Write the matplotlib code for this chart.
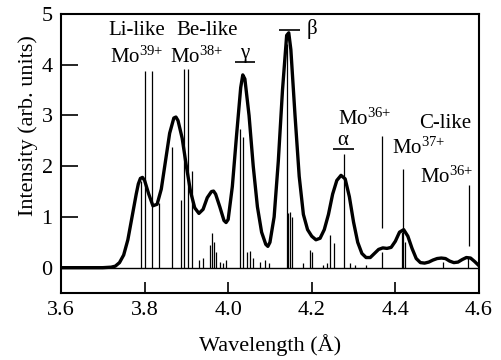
import matplotlib.pyplot as plt
import numpy as np

plt.rcParams['font.family'] = ['Liberation Serif', 'DejaVu Serif']
plt.rcParams['mathtext.fontset'] = 'custom'
plt.rcParams['mathtext.rm'] = 'Liberation Serif'
plt.rcParams['mathtext.it'] = 'Liberation Serif'

# broad (smoothed) spectrum
wl_broad = [3.60, 3.65, 3.70, 3.72, 3.73, 3.74, 3.75, 3.76, 3.77, 3.78, 3.785,
            3.79, 3.795, 3.80, 3.81, 3.82, 3.83, 3.84, 3.85, 3.86, 3.87, 3.875,
            3.88, 3.89, 3.90, 3.91, 3.92, 3.93, 3.94, 3.95, 3.96, 3.965, 3.97,
            3.98, 3.99, 3.995, 4.00, 4.01, 4.02, 4.03, 4.035, 4.04, 4.05, 4.06,
            4.07, 4.08, 4.09, 4.095, 4.10, 4.11, 4.12, 4.13, 4.14, 4.145, 4.15,
            4.16, 4.17, 4.18, 4.19, 4.20, 4.21, 4.22, 4.23, 4.24, 4.25, 4.26,
            4.27, 4.28, 4.29, 4.30, 4.31, 4.32, 4.33, 4.34, 4.35, 4.36, 4.37,
            4.38, 4.39, 4.40, 4.41, 4.42, 4.43, 4.44, 4.45, 4.46, 4.47, 4.48,
            4.49, 4.50, 4.51, 4.52, 4.53, 4.54, 4.55, 4.56, 4.57, 4.58, 4.59, 4.60]
int_broad = [0.0, 0.0, 0.0, 0.01, 0.03, 0.10, 0.25, 0.55, 1.00, 1.45, 1.65,
             1.76, 1.78, 1.72, 1.45, 1.22, 1.25, 1.55, 2.10, 2.65, 2.95, 2.97,
             2.90, 2.55, 2.00, 1.50, 1.18, 1.07, 1.15, 1.38, 1.50, 1.51, 1.45,
             1.20, 0.93, 0.89, 0.95, 1.60, 2.60, 3.55, 3.80, 3.72, 3.00, 2.00,
             1.20, 0.70, 0.46, 0.42, 0.50, 1.00, 2.10, 3.50, 4.58, 4.63, 4.30,
             3.00, 1.80, 1.05, 0.75, 0.62, 0.55, 0.58, 0.75, 1.05, 1.45, 1.72,
             1.82, 1.75, 1.40, 0.90, 0.50, 0.28, 0.20, 0.20, 0.28, 0.36, 0.39,
             0.38, 0.40, 0.52, 0.70, 0.75, 0.62, 0.38, 0.18, 0.10, 0.09, 0.11,
             0.15, 0.18, 0.19, 0.18, 0.13, 0.10, 0.11, 0.16, 0.20, 0.19, 0.12, 0.04]

# sharp line spectrum (positions and heights)
wl_lines = [3.792, 3.800, 3.818, 3.835, 3.866, 3.886, 3.894, 3.904, 3.913,
            3.930, 3.940, 3.957, 3.962, 3.967, 3.972, 3.980, 3.988, 3.995,
            4.028, 4.035, 4.045, 4.052, 4.060, 4.075, 4.088, 4.098,
            4.140, 4.143, 4.148, 4.152, 4.180, 4.197, 4.200, 4.227, 4.236,
            4.244, 4.253, 4.277, 4.291, 4.303, 4.331, 4.368, 4.415, 4.419,
            4.423, 4.515, 4.574]
int_lines = [1.70, 3.88, 3.88, 1.27, 2.38, 1.33, 3.92, 3.92, 1.90,
             0.16, 0.20, 0.45, 0.69, 0.50, 0.30, 0.12, 0.10, 0.15,
             2.74, 2.57, 0.30, 0.32, 0.20, 0.12, 0.15, 0.10,
             4.40, 1.07, 1.10, 1.00, 0.10, 0.35, 0.30, 0.06, 0.10,
             0.65, 0.48, 2.25, 0.10, 0.06, 0.06, 0.30, 0.70, 0.75,
             0.50, 0.12, 0.20]

# annotation markers above the spectrum
mark_x = [4.369, 4.419, 4.577]
mark_lo = [0.78, 0.78, 0.42]
mark_hi = [2.60, 1.95, 1.63]

fig = plt.figure(figsize=(5.02, 3.6), dpi=100)
ax = fig.add_axes([0.1215, 0.186, 0.8325, 0.775])

ax.axhline(0, color='black', lw=1.0)
ax.vlines(wl_lines, 0, int_lines, color='black', lw=0.9)
ax.vlines(mark_x, mark_lo, mark_hi, color='black', lw=0.9)
ax.plot(wl_broad, int_broad, color='black', lw=2.4, solid_joinstyle='round')

fs = 15
ax.text(3.781, 4.67, 'Li-like', ha='center', va='center', fontsize=fs)
ax.text(3.949, 4.67, 'Be-like', ha='center', va='center', fontsize=fs)
ax.text(3.780, 4.14, r'Mo$^{39{+}}$', ha='center', va='center', fontsize=fs)
ax.text(3.925, 4.14, r'Mo$^{38{+}}$', ha='center', va='center', fontsize=fs)
ax.text(4.040, 4.22, 'γ', ha='center', va='center', fontsize=fs)
ax.hlines(4.05, 4.016, 4.064, color='black', lw=1.2)
ax.text(4.200, 4.70, 'β', ha='center', va='center', fontsize=fs)
ax.hlines(4.68, 4.122, 4.172, color='black', lw=1.2)
ax.text(4.275, 2.50, 'α', ha='center', va='center', fontsize=fs)
ax.hlines(2.33, 4.25, 4.30, color='black', lw=1.2)
ax.text(4.327, 2.93, r'Mo$^{36{+}}$', ha='center', va='center', fontsize=fs)
ax.text(4.519, 2.85, 'C-like', ha='center', va='center', fontsize=fs)
ax.text(4.455, 2.35, r'Mo$^{37{+}}$', ha='center', va='center', fontsize=fs)
ax.text(4.523, 1.79, r'Mo$^{36{+}}$', ha='center', va='center', fontsize=fs)

ax.set_xlim(3.6, 4.6)
ax.set_ylim(-0.5, 5)
ax.set_xticks([3.6, 3.8, 4.0, 4.2, 4.4, 4.6])
ax.set_xticklabels(['3.6', '3.8', '4.0', '4.2', '4.4', '4.6'])
ax.set_yticks([0, 1, 2, 3, 4, 5])
ax.tick_params(axis='x', direction='in', length=8, width=1.2, labelsize=16, pad=6)
ax.tick_params(axis='y', direction='in', length=12, width=1.2, labelsize=16, pad=6)
for s in ax.spines.values():
    s.set_linewidth(1.5)

ax.set_xlabel('Wavelength (Å)', fontsize=16, labelpad=10)
ax.set_ylabel('Intensity (arb. units)', fontsize=16, va='center', rotation_mode='anchor')
ax.yaxis.set_label_coords(-0.079, 0.60)

fig.savefig('out.png', dpi=100)
